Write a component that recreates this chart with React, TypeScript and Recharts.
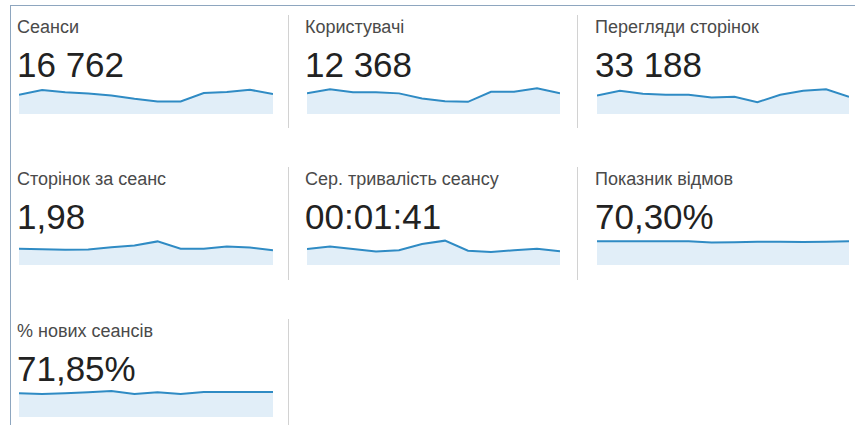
import React from 'react';
import { AreaChart, Area, XAxis, YAxis } from 'recharts';

// Categories (12 periods)
const periods = ['січ', 'лют', 'бер', 'кві', 'тра', 'чер', 'лип', 'сер', 'вер', 'жов', 'лис', 'гру'];

// Series values (read from the sparklines)
const sessions = [1349, 1484, 1418, 1389, 1331, 1233, 1158, 1158, 1398, 1427, 1493, 1369];
const users = [1042, 1128, 1064, 1064, 1042, 934, 875, 860, 1077, 1077, 1150, 1042];
const pageviews = [2663, 2928, 2755, 2697, 2697, 2547, 2582, 2276, 2697, 2928, 3009, 2582];
const pagesPerSession = [1.81, 1.79, 1.76, 1.78, 1.89, 1.98, 2.18, 1.81, 1.81, 1.93, 1.88, 1.74];
const avgDurationSec = [97, 106, 97, 88, 93, 115, 127, 91, 86, 93, 98, 89];
const bounceRate = [70.5, 70.6, 70.5, 70.4, 70.2, 66.8, 67.8, 68.6, 69.0, 68.4, 69.2, 70.4];
const newSessionsPct = [70.4, 68.3, 70.4, 73.4, 77.3, 68.3, 73.4, 68.3, 74.3, 74.3, 74.3, 74.3];

// Labels
const metricTitles = [
  'Сеанси',
  'Користувачі',
  'Перегляди сторінок',
  'Сторінок за сеанс',
  'Сер. тривалість сеансу',
  'Показник відмов',
  '% нових сеансів',
];
const metricTotals = ['16 762', '12 368', '33 188', '1,98', '00:01:41', '70,30%', '71,85%'];
const metricSeries = [sessions, users, pageviews, pagesPerSession, avgDurationSec, bounceRate, newSessionsPct];
const metricDomains: [number, number][] = [
  [800, 1600],
  [600, 1200],
  [1600, 3200],
  [1.0, 2.4],
  [40, 140],
  [0, 83],
  [0, 83],
];

const FONT = '"Liberation Sans", Arial, sans-serif';
const LINE = '#2f8bc4';
const FILL = '#e1eef8';

const colChartLeft = [19, 307, 597];
const colChartWidth = [254, 253, 252];
const colTextLeft = [17, 305, 595];
const ROW_PITCH = 151.7;
const CHART_H = 28;

function Tile({ index }: { index: number }) {
  const row = Math.floor(index / 3);
  const col = index % 3;
  const base = 113.5 + ROW_PITCH * row;
  const data = periods.map((p, i) => ({ p, v: metricSeries[index][i] }));
  return (
    <>
      <div
        style={{
          position: 'absolute',
          left: colTextLeft[col],
          top: 18.1 + ROW_PITCH * row,
          fontFamily: FONT,
          fontSize: 18,
          lineHeight: '18px',
          color: '#4a4a4a',
          whiteSpace: 'nowrap',
        }}
      >
        {metricTitles[index]}
      </div>
      <div
        style={{
          position: 'absolute',
          left: colTextLeft[col],
          top: 47.1 + ROW_PITCH * row,
          fontFamily: FONT,
          fontSize: 35,
          lineHeight: '35px',
          color: '#222',
          whiteSpace: 'nowrap',
        }}
      >
        {metricTotals[index]}
      </div>
      <div style={{ position: 'absolute', left: colChartLeft[col], top: base - CHART_H }}>
        <AreaChart
          width={colChartWidth[col]}
          height={CHART_H}
          data={data}
          margin={{ top: 0, right: 0, bottom: 0, left: 0 }}
        >
          <XAxis dataKey="p" hide />
          <YAxis hide domain={metricDomains[index]} />
          <Area
            type="linear"
            dataKey="v"
            stroke={LINE}
            strokeWidth={2}
            fill={FILL}
            fillOpacity={1}
            dot={false}
            activeDot={false}
            isAnimationActive={false}
          />
        </AreaChart>
      </div>
    </>
  );
}

export default function App() {
  const dividers = [
    { x: 288, y: 15, h: 113 },
    { x: 577, y: 15, h: 113 },
    { x: 288, y: 167, h: 113 },
    { x: 577, y: 167, h: 113 },
    { x: 288, y: 319, h: 106 },
  ];
  return (
    <div
      style={{
        position: 'absolute',
        left: 0,
        top: 0,
        width: 855,
        height: 425,
        background: '#fff',
        overflow: 'hidden',
      }}
    >
      <div
        style={{
          position: 'absolute',
          left: 10,
          top: 5,
          width: 860,
          height: 440,
          borderTop: '1px solid #8ea6bf',
          borderLeft: '1px solid #8ea6bf',
        }}
      />
      {dividers.map((d, i) => (
        <div
          key={i}
          style={{ position: 'absolute', left: d.x, top: d.y, width: 1, height: d.h, background: '#d2d2d2' }}
        />
      ))}
      {metricTitles.map((_, i) => (
        <Tile key={i} index={i} />
      ))}
    </div>
  );
}
